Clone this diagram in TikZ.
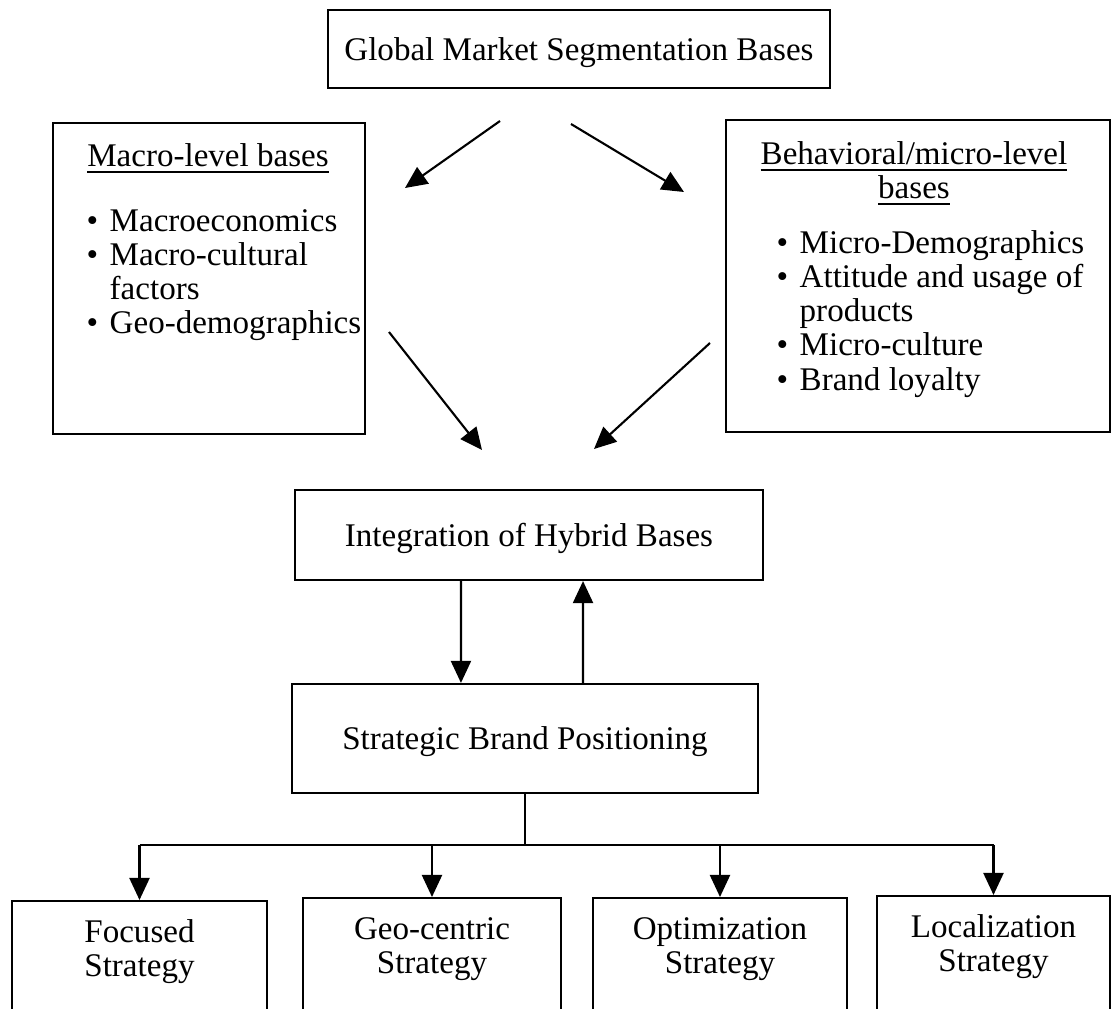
\documentclass[tikz,border=0pt]{standalone}
\usepackage{fontspec}
\setmainfont{Liberation Serif}
\usetikzlibrary{arrows.meta}

\newcommand{\bulitem}{\makebox[2.3mm][l]{\textbullet}}
\newcommand{\bulgap}{\hspace*{2.3mm}}

\begin{document}
\begin{tikzpicture}[x=0.01cm, y=-0.01cm,
  every node/.style={font=\fontsize{9.4}{9.7}\selectfont},
  box/.style={draw, line width=0.6pt, inner sep=0pt, text depth=0pt},
  arr/.style={line width=0.6pt, -{Triangle[length=2.2mm, width=2mm]}}]
  \useasboundingbox (0,0) rectangle (1117,1009);
  \clip (0,0) rectangle (1117,1009);

  \node[box, minimum width=5.02cm, minimum height=0.78cm] (global) at (579,49) {Global Market Segmentation Bases};

  \node[box, minimum width=3.12cm, minimum height=3.11cm] (macro) at (209,278.5) {};
  \node (macrotitle) at (208,159) {\underline{Macro-level bases}};
  \node[anchor=north west, align=left, inner sep=0pt] (macrolist) at (86,209)
    {\bulitem Macroeconomics\\ \bulitem Macro-cultural\\ \bulgap factors\\ \bulitem Geo-demographics};

  \node[box, minimum width=3.84cm, minimum height=3.12cm] (micro) at (918,276) {};
  \node[align=center] (microtitle) at (914,174) {\underline{Behavioral/micro-level}\\ \underline{bases}};
  \node[anchor=north west, align=left, inner sep=0pt] (microlist) at (776,230)
    {\bulitem Micro-Demographics\\ \bulitem Attitude and usage of\\ \bulgap products\\ \bulitem Micro-culture\\ \bulitem Brand loyalty};

  \node[box, minimum width=4.68cm, minimum height=0.9cm] (integ) at (529,535) {Integration of Hybrid Bases};
  \node[box, minimum width=4.66cm, minimum height=1.09cm] (strat) at (525,738.5) {Strategic Brand Positioning};

  \coordinate (gl) at (500,121);  \coordinate (ml) at (405,188);
  \coordinate (gr) at (571,124);  \coordinate (mr) at (684,192);
  \coordinate (lm) at (389,332);  \coordinate (il) at (482,450);
  \coordinate (rm) at (710,343);  \coordinate (ir) at (594,449);
  \draw[arr] (gl) -- (ml);
  \draw[arr] (gr) -- (mr);
  \draw[arr] (lm) -- (il);
  \draw[arr] (rm) -- (ir);

  \draw[arr] ([xshift=-0.68cm]integ.south) -- ([xshift=-0.64cm]strat.north);
  \draw[arr] ([xshift=0.58cm]strat.north) -- ([xshift=0.54cm]integ.south);

  \foreach \name/\cx/\top/\w/\first in {focused/139.5/900/2.55cm/Focused, geo/432/897/2.58cm/Geo-centric,
      optim/720/897/2.54cm/Optimization, local/993.5/895/2.33cm/Localization}{
    \node[box, anchor=north, minimum width=\w, minimum height=1.6cm] (\name) at (\cx,\top) {};
    \node[align=center] (\name txt) at ([yshift=-0.52cm]\name.north) {\first\\Strategy};
  }

  \coordinate (bar) at (525,845);
  \draw[line width=0.6pt] (strat.south) -- (bar);
  \draw[line width=0.6pt] (focused.north |- bar) -- (local.north |- bar);
  \foreach \name in {focused,geo,optim,local}
    \draw[arr] (\name.north |- bar) -- (\name.north);
\end{tikzpicture}
\end{document}
